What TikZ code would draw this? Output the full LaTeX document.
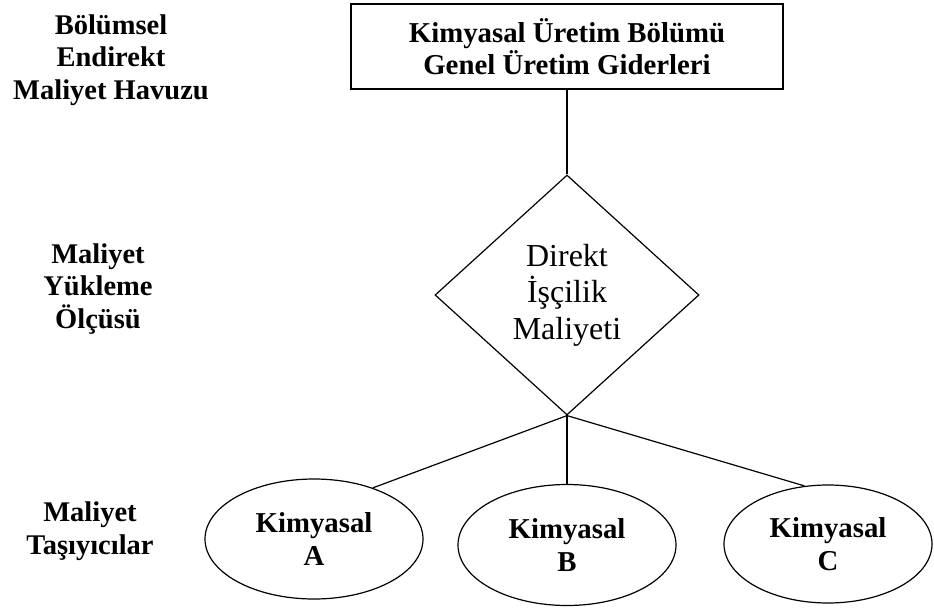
\documentclass[tikz,border=0pt]{standalone}
\usepackage{fontspec}
\setmainfont{Liberation Serif}
\usetikzlibrary{shapes.geometric}

\begin{document}
\begin{tikzpicture}[x=1pt,y=-1pt,
  conn/.style={line width=1.2pt},
  sidelabel/.style={align=center,inner sep=0pt,
    font=\fontsize{28.5}{32.5}\selectfont\bfseries},
  poolbox/.style={draw,line width=1.7pt,rectangle,align=center,
    minimum width=432pt,minimum height=85pt,inner sep=0pt,
    font=\fontsize{28.8}{32}\selectfont\bfseries},
  driver/.style={draw,line width=1.2pt,diamond,aspect=1.1,align=center,
    minimum width=264pt,minimum height=240pt,inner sep=0pt,
    font=\fontsize{32}{36.5}\selectfont},
  product/.style={draw,line width=1.2pt,ellipse,align=center,inner sep=0pt,
    font=\fontsize{28.8}{33.5}\selectfont\bfseries}]
\useasboundingbox (0,0) rectangle (934,610);

% row labels on the left
\node[sidelabel] (lpool)   at (111,60)  {Bölümsel\\Endirekt\\Maliyet Havuzu};
\node[sidelabel] (ldriver) at (98,289)  {Maliyet\\Yükleme\\Ölçüsü};
\node[sidelabel] (lcarry)  at (90,531)  {Maliyet\\Taşıyıcılar};

% cost pool, allocation base and cost objects
\node[poolbox] (pool) at (567,46.5) {Kimyasal Üretim Bölümü\\Genel Üretim Giderleri};
\node[driver] (base) at (567,295) {Direkt\\İşçilik\\Maliyeti};
\node[product,minimum width=218pt,minimum height=120pt] (ka) at (314,539) {Kimyasal\\A};
\node[product,minimum width=218pt,minimum height=121pt] (kb) at (567,545) {Kimyasal\\B};
\node[product,minimum width=208pt,minimum height=118pt] (kc) at (828,544) {Kimyasal\\C};

% connectors
\draw[conn] (pool.south) -- (base.north);
\draw[conn] (base.south) -- (ka.41);
\draw[conn] (base.south) -- (kb.north);
\draw[conn] (base.south) -- (kc.112);
\end{tikzpicture}
\end{document}
